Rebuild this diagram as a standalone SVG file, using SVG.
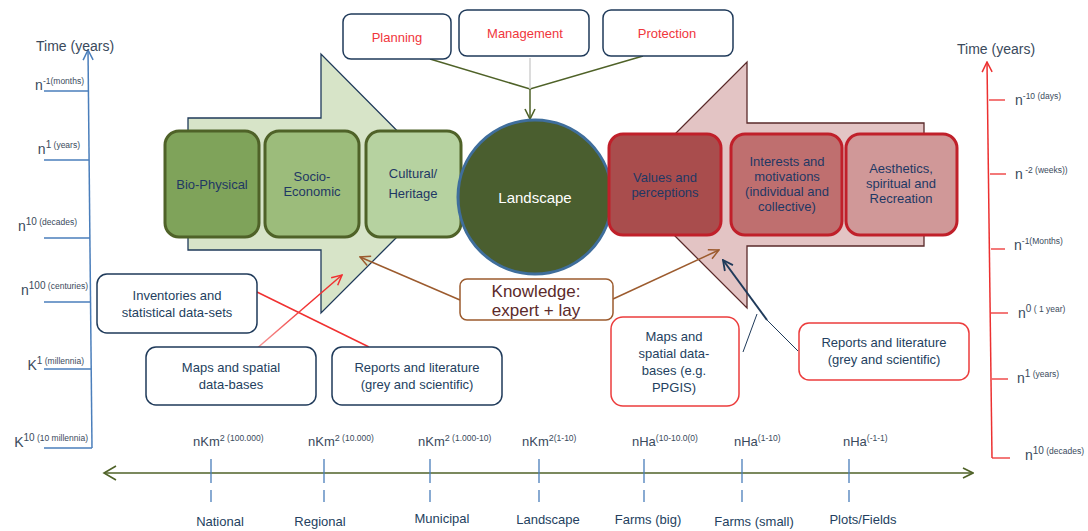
<svg xmlns="http://www.w3.org/2000/svg" width="1088" height="531" viewBox="0 0 1088 531">
<style>
text{font-family:"Liberation Sans",Arial,sans-serif;}
.ax{font-size:14px;fill:#3a4a5c;}
.sup{font-size:8.5px;}
.bx{font-size:13px;fill:#1f3864;text-anchor:middle;}
.lb{font-size:13px;fill:#243f60;text-anchor:middle;}
.top{font-size:13px;fill:#f0363c;text-anchor:middle;}
.gbox{stroke:#4f6228;stroke-width:3;}
.rbox{stroke:#c0202a;stroke-width:3;}
.nav{fill:#fff;stroke:#1f3a5a;stroke-width:1.5;}
.rnav{fill:#fff;stroke:#ec3c3c;stroke-width:1.5;}
.tick{stroke:#4a7ebb;stroke-width:1.3;}
.sc{font-size:13px;fill:#3a4a5c;}
</style>
<defs>
<marker id="mG" viewBox="0 0 12 12" refX="11" refY="6" markerWidth="12" markerHeight="12" markerUnits="userSpaceOnUse" orient="auto"><path d="M1,1 L11,6 L1,11" fill="none" stroke="#4f6228" stroke-width="1.6"/></marker>
<marker id="mB" viewBox="0 0 12 12" refX="11" refY="6" markerWidth="12" markerHeight="12" markerUnits="userSpaceOnUse" orient="auto"><path d="M1,1 L11,6 L1,11" fill="none" stroke="#9c5b2e" stroke-width="1.5"/></marker>
<marker id="mR" viewBox="0 0 12 12" refX="11" refY="6" markerWidth="12" markerHeight="12" markerUnits="userSpaceOnUse" orient="auto"><path d="M1,1 L11,6 L1,11" fill="none" stroke="#f03030" stroke-width="1.5"/></marker>
<marker id="mN" viewBox="0 0 12 12" refX="11" refY="6" markerWidth="12" markerHeight="12" markerUnits="userSpaceOnUse" orient="auto"><path d="M1,1 L11,6 L1,11" fill="none" stroke="#1f3a5a" stroke-width="1.8"/></marker>
<marker id="mAxB" viewBox="0 0 12 12" refX="11" refY="6" markerWidth="12" markerHeight="12" markerUnits="userSpaceOnUse" orient="auto"><path d="M1,1 L11,6 L1,11" fill="none" stroke="#4a7ebb" stroke-width="1.5"/></marker>
<marker id="mAxR" viewBox="0 0 12 12" refX="11" refY="6" markerWidth="12" markerHeight="12" markerUnits="userSpaceOnUse" orient="auto"><path d="M1,1 L11,6 L1,11" fill="none" stroke="#ec3030" stroke-width="1.5"/></marker>
<linearGradient id="fade" gradientUnits="userSpaceOnUse" x1="255" y1="350" x2="342" y2="275"><stop offset="0" stop-color="#f6a0a0"/><stop offset="0.6" stop-color="#f03030"/><stop offset="1" stop-color="#f03030"/></linearGradient>
</defs>
<rect width="1088" height="531" fill="#fff"/>

<!-- Left time axis -->
<g id="axis-left">
<line x1="92" y1="448" x2="88" y2="50" stroke="#4a7ebb" stroke-width="1.5" marker-end="url(#mAxB)"/>
<line x1="44" y1="91" x2="89" y2="91" class="tick"/>
<line x1="44" y1="160" x2="89" y2="160" class="tick"/>
<line x1="44" y1="238" x2="90" y2="238" class="tick"/>
<line x1="44" y1="302" x2="90" y2="302" class="tick"/>
<line x1="44" y1="369" x2="91" y2="369" class="tick"/>
<line x1="44" y1="448" x2="92" y2="448" class="tick"/>
<text x="36" y="51" class="ax">Time  (years)</text>
<text x="84" y="90" class="ax" text-anchor="end">n<tspan class="sup" dy="-6">-1(months)</tspan></text>
<text x="80" y="154" class="ax" text-anchor="end">n<tspan font-size="10" dy="-6">1</tspan><tspan class="sup"> (years)</tspan></text>
<text x="77" y="231" class="ax" text-anchor="end">n<tspan font-size="10" dy="-6">10</tspan><tspan class="sup"> (decades)</tspan></text>
<text x="88" y="295" class="ax" text-anchor="end">n<tspan font-size="10" dy="-6">100</tspan><tspan class="sup"> (centuries)</tspan></text>
<text x="84" y="370" class="ax" text-anchor="end">K<tspan font-size="10" dy="-6">1</tspan><tspan class="sup"> (millennia)</tspan></text>
<text x="88" y="447" class="ax" text-anchor="end">K<tspan font-size="10" dy="-6">10</tspan><tspan class="sup"> (10 millennia)</tspan></text>
</g>

<!-- Right time axis -->
<g id="axis-right">
<line x1="992" y1="458" x2="987" y2="62" stroke="#ec3030" stroke-width="1.5" marker-end="url(#mAxR)"/>
<line x1="989" y1="100" x2="1005" y2="100" stroke="#ec3030" stroke-width="1.3"/>
<line x1="990" y1="174" x2="1006" y2="174" stroke="#ec3030" stroke-width="1.3"/>
<line x1="991" y1="249" x2="1005" y2="249" stroke="#ec3030" stroke-width="1.3"/>
<line x1="991" y1="313" x2="1008" y2="313" stroke="#ec3030" stroke-width="1.3"/>
<line x1="992" y1="379" x2="1008" y2="379" stroke="#ec3030" stroke-width="1.3"/>
<line x1="992" y1="458" x2="1010" y2="458" stroke="#ec3030" stroke-width="1.3"/>
<text x="957" y="54" class="ax">Time  (years)</text>
<text x="1015" y="105" class="ax">n<tspan class="sup" dy="-6">-10 (days)</tspan></text>
<text x="1015" y="179" class="ax">n<tspan class="sup" dy="-6"> -2 (weeks))</tspan></text>
<text x="1014" y="250" class="ax">n<tspan class="sup" dy="-6">-1(Months)</tspan></text>
<text x="1018" y="318" class="ax">n<tspan font-size="10" dy="-6">0</tspan><tspan class="sup"> ( 1 year)</tspan></text>
<text x="1017" y="383" class="ax">n<tspan font-size="10" dy="-6">1</tspan><tspan class="sup"> (years)</tspan></text>
<text x="1025" y="460" class="ax">n<tspan font-size="10" dy="-6">10</tspan><tspan class="sup"> (decades)</tspan></text>
</g>

<!-- Big arrows -->
<g id="arrow-left">
<polygon points="188,118 321,118 321,54 450,184 321,313 321,250 188,250" fill="#d7e4c8" stroke="#1f3a5a" stroke-width="1.3"/>
</g>
<g id="arrow-right">
<polygon points="924,123 747,123 747,62 624,185 747,308 747,246 924,246" fill="#e3c4c4" stroke="#5a2a2a" stroke-width="1.3"/>
</g>

<!-- Connectors -->
<g id="connectors">
<polyline points="430,59 530,89 643,56" fill="none" stroke="#4f6228" stroke-width="1.5"/>
<line x1="530" y1="58" x2="530" y2="89" stroke="#d0d0d0" stroke-width="1.5"/>
<line x1="530" y1="89" x2="530" y2="119" stroke="#4f6228" stroke-width="1.5" marker-end="url(#mG)"/>
<line x1="460" y1="300" x2="360" y2="257" stroke="#9c5b2e" stroke-width="1.5" marker-end="url(#mB)"/>
<line x1="613" y1="299" x2="719" y2="250" stroke="#9c5b2e" stroke-width="1.5" marker-end="url(#mB)"/>
<line x1="257" y1="292" x2="369" y2="347" stroke="#f03030" stroke-width="1.5"/>
<line x1="255" y1="350" x2="342" y2="275" stroke="url(#fade)" stroke-width="1.5" marker-end="url(#mR)"/>
<line x1="767" y1="320" x2="723" y2="260" stroke="#1f3a5a" stroke-width="2" marker-end="url(#mN)"/>
<line x1="798" y1="351" x2="767" y2="320" stroke="#1f3a5a" stroke-width="1"/>
<line x1="743" y1="352" x2="757" y2="314" stroke="#1f3a5a" stroke-width="1"/>
<line x1="104" y1="473" x2="973" y2="473" stroke="#4f6228" stroke-width="1.6" marker-end="url(#mG)"/>
<polyline points="116,466 104,473 116,480" fill="none" stroke="#4f6228" stroke-width="1.6"/>
</g>

<!-- Green boxes -->
<g id="bio-physical"><rect x="165" y="131" width="94" height="106" rx="14" fill="#7fa35a" class="gbox"/><text x="212" y="189" class="bx">Bio-Physical</text></g>
<g id="socio-economic"><rect x="265" y="131" width="94" height="106" rx="14" fill="#9cbc7b" class="gbox"/><text x="312" y="181" class="bx">Socio-</text><text x="312" y="196" class="bx">Economic</text></g>
<g id="cultural-heritage"><rect x="366" y="131" width="95" height="106" rx="14" fill="#b6d2a0" class="gbox"/><text x="413" y="178" class="bx">Cultural/</text><text x="413" y="198" class="bx">Heritage</text></g>

<!-- Landscape -->
<g id="landscape"><circle cx="535" cy="197" r="77" fill="#4a5e2f" stroke="#3f6e9c" stroke-width="3"/><text x="535" y="203" text-anchor="middle" font-size="15" fill="#ffffff">Landscape</text></g>

<!-- Red boxes -->
<g id="values"><rect x="609" y="134" width="112" height="101" rx="14" fill="#a94d4d" class="rbox"/><text x="665" y="182" class="bx">Values and</text><text x="665" y="197" class="bx">perceptions</text></g>
<g id="interests"><rect x="731" y="134" width="111" height="101" rx="14" fill="#bf6f6f" class="rbox"/><text x="787" y="166" class="bx">Interests and</text><text x="787" y="181" class="bx">motivations</text><text x="787" y="196" class="bx">(individual and</text><text x="787" y="211" class="bx">collective)</text></g>
<g id="aesthetics"><rect x="846" y="134" width="111" height="101" rx="14" fill="#d09898" class="rbox"/><text x="901" y="173" class="bx">Aesthetics,</text><text x="901" y="188" class="bx">spiritual and</text><text x="901" y="203" class="bx">Recreation</text></g>

<!-- Top boxes -->
<g id="planning"><rect x="343" y="14" width="108" height="45" rx="8" class="nav"/><text x="397" y="42" class="top">Planning</text></g>
<g id="management"><rect x="459" y="10" width="130" height="46" rx="8" class="nav"/><text x="525" y="38" class="top">Management</text></g>
<g id="protection"><rect x="603" y="10" width="130" height="46" rx="8" class="nav"/><text x="667" y="38" class="top">Protection</text></g>

<!-- Knowledge -->
<g id="knowledge"><rect x="460" y="279" width="153" height="41" rx="7" fill="#fff" stroke="#9c5b2e" stroke-width="1.5"/><text x="536" y="297" text-anchor="middle" font-size="17" fill="#5c2a2a">Knowledge:</text><text x="536" y="316" text-anchor="middle" font-size="17" fill="#5c2a2a">expert + lay</text></g>

<!-- Data boxes left -->
<g id="inventories"><rect x="97" y="274" width="160" height="59" rx="10" class="nav"/><text x="177" y="300" class="lb">Inventories  and</text><text x="177" y="317" class="lb">statistical  data-sets</text></g>
<g id="maps-left"><rect x="146" y="347" width="170" height="58" rx="10" class="nav"/><text x="231" y="372" class="lb">Maps  and spatial</text><text x="231" y="389" class="lb">data-bases</text></g>
<g id="reports-left"><rect x="332" y="347" width="170" height="58" rx="10" class="nav"/><text x="417" y="372" class="lb">Reports  and literature</text><text x="417" y="389" class="lb">(grey and  scientific)</text></g>

<!-- Data boxes right -->
<g id="maps-right"><rect x="611" y="317" width="128" height="89" rx="12" class="rnav"/><text x="674" y="341" class="lb">Maps  and</text><text x="674" y="358" class="lb">spatial  data-</text><text x="674" y="375" class="lb">bases (e.g.</text><text x="674" y="392" class="lb">PPGIS)</text></g>
<g id="reports-right"><rect x="799" y="323" width="170" height="57" rx="10" class="rnav"/><text x="884" y="347" class="lb">Reports  and literature</text><text x="884" y="364" class="lb">(grey and  scientific)</text></g>

<!-- Scale ticks -->
<g id="scale-ticks">
<path d="M211,459V483M211,490V502M324,459V483M324,490V502M430,459V483M430,490V502M539,459V483M539,490V502M644,459V483M644,490V502M742,459V483M742,490V502M849,459V483M849,490V502" class="tick" fill="none"/>
</g>
<g id="scale-labels">
<text x="193" y="446" class="sc">nKm<tspan font-size="9" dy="-5">2</tspan><tspan class="sup"> (100.000)</tspan></text>
<text x="308" y="446" class="sc">nKm<tspan font-size="9" dy="-5">2</tspan><tspan class="sup"> (10.000)</tspan></text>
<text x="418" y="446" class="sc">nKm<tspan font-size="9" dy="-5">2</tspan><tspan class="sup"> (1.000-10)</tspan></text>
<text x="522" y="446" class="sc">nKm<tspan font-size="9" dy="-5">2</tspan><tspan class="sup">(1-10)</tspan></text>
<text x="632" y="446" class="sc">nHa<tspan class="sup" dy="-5">(10-10.0(0)</tspan></text>
<text x="734" y="446" class="sc">nHa<tspan class="sup" dy="-5">(1-10)</tspan></text>
<text x="843" y="446" class="sc">nHa<tspan class="sup" dy="-5">(-1-1)</tspan></text>
<text x="220" y="526" class="lb">National</text>
<text x="320" y="526" class="lb">Regional</text>
<text x="442" y="523" class="lb">Municipal</text>
<text x="548" y="524" class="lb">Landscape</text>
<text x="648" y="524" class="lb">Farms  (big)</text>
<text x="754" y="526" class="lb">Farms  (small)</text>
<text x="863" y="524" class="lb">Plots/Fields</text>
</g>
</svg>
